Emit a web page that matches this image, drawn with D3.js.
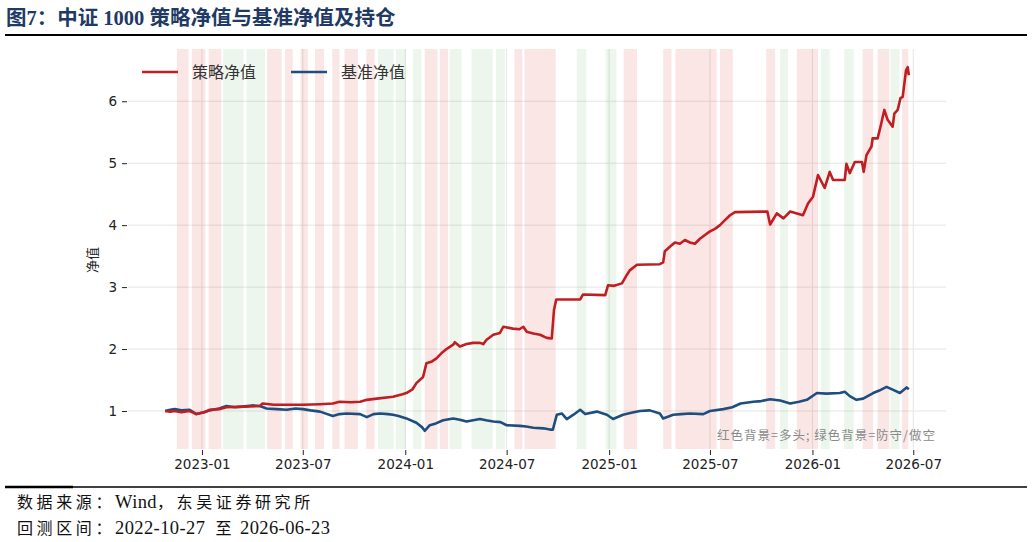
<!DOCTYPE html>
<html><head><meta charset="utf-8">
<script src="https://cdn.jsdelivr.net/npm/d3@7"></script>
<style>
html,body{margin:0;padding:0;background:#fff;}
svg{display:block;}
text{white-space:pre;}
</style></head>
<body>
<svg id="chart" width="1032" height="542"></svg>
<script>
// ---------- data ----------
const titleText = "图7：中证 1000 策略净值与基准净值及持仓";
const seriesNames = ["策略净值", "基准净值"];
const yTicks = [1, 2, 3, 4, 5, 6];
const sourceLines = ["数据来源：Wind，东吴证券研究所", "回测区间：2022-10-27  至 2026-06-23"];
const noteText = "红色背景=多头; 绿色背景=防守/做空";

const strategyDates = ["2022-10-27","2022-11-05","2022-11-13","2022-11-25","2022-12-10","2022-12-22","2023-01-05","2023-01-15","2023-02-01","2023-02-14","2023-03-15","2023-04-15","2023-04-20","2023-05-10","2023-06-02","2023-07-01","2023-08-01","2023-08-24","2023-09-05","2023-09-25","2023-10-12","2023-10-24","2023-11-11","2023-12-10","2023-12-27","2024-01-03","2024-01-14","2024-01-21","2024-02-02","2024-02-08","2024-02-18","2024-02-26","2024-03-08","2024-03-15","2024-03-27","2024-03-30","2024-04-08","2024-04-20","2024-05-02","2024-05-14","2024-05-20","2024-05-26","2024-06-07","2024-06-19","2024-06-25","2024-07-12","2024-07-24","2024-07-31","2024-08-06","2024-08-18","2024-08-30","2024-09-11","2024-09-20","2024-09-24","2024-09-28","2024-11-10","2024-11-15","2024-12-25","2024-12-30","2025-01-10","2025-01-24","2025-02-02","2025-02-07","2025-02-20","2025-04-02","2025-04-08","2025-04-11","2025-04-20","2025-04-29","2025-05-08","2025-05-17","2025-05-26","2025-06-04","2025-06-13","2025-06-22","2025-07-01","2025-07-10","2025-07-19","2025-07-28","2025-08-06","2025-08-15","2025-10-12","2025-10-17","2025-10-29","2025-11-10","2025-11-22","2025-12-15","2025-12-24","2026-01-02","2026-01-11","2026-01-23","2026-02-01","2026-02-07","2026-02-28","2026-03-03","2026-03-09","2026-03-14","2026-03-18","2026-03-31","2026-04-03","2026-04-08","2026-04-17","2026-04-19","2026-04-28","2026-05-04","2026-05-10","2026-05-16","2026-05-25","2026-05-28","2026-06-03","2026-06-08","2026-06-12","2026-06-18","2026-06-21","2026-06-23"];
const strategyValues = [1.00,0.99,1.00,0.98,1.00,0.95,0.98,1.02,1.03,1.06,1.07,1.08,1.12,1.10,1.10,1.10,1.11,1.12,1.15,1.14,1.15,1.18,1.20,1.23,1.27,1.29,1.35,1.45,1.55,1.77,1.80,1.85,1.95,2.00,2.07,2.11,2.04,2.08,2.10,2.10,2.08,2.15,2.23,2.26,2.36,2.33,2.32,2.36,2.28,2.25,2.23,2.18,2.17,2.63,2.80,2.80,2.88,2.87,3.03,3.02,3.06,3.20,3.27,3.36,3.37,3.40,3.58,3.65,3.72,3.70,3.76,3.72,3.70,3.78,3.84,3.90,3.94,4.00,4.08,4.16,4.21,4.22,4.01,4.19,4.11,4.22,4.16,4.35,4.46,4.81,4.60,4.86,4.73,4.73,4.99,4.84,4.94,5.02,5.02,4.86,5.13,5.27,5.40,5.40,5.62,5.86,5.70,5.59,5.80,5.86,6.05,6.07,6.50,6.55,6.42];

const benchDates = ["2022-10-27","2022-11-05","2022-11-13","2022-11-25","2022-12-10","2022-12-22","2023-01-05","2023-01-15","2023-02-01","2023-02-14","2023-03-01","2023-03-15","2023-04-01","2023-04-15","2023-04-27","2023-05-15","2023-06-02","2023-06-18","2023-07-01","2023-07-15","2023-08-01","2023-08-24","2023-09-05","2023-09-18","2023-10-12","2023-10-24","2023-11-05","2023-11-17","2023-12-01","2023-12-10","2023-12-20","2024-01-03","2024-01-21","2024-01-31","2024-02-05","2024-02-14","2024-02-25","2024-03-09","2024-03-27","2024-04-08","2024-04-20","2024-05-14","2024-05-25","2024-06-07","2024-06-20","2024-07-01","2024-07-25","2024-08-05","2024-08-18","2024-09-05","2024-09-17","2024-09-22","2024-09-29","2024-10-08","2024-10-17","2024-10-29","2024-11-10","2024-11-19","2024-12-10","2024-12-28","2025-01-08","2025-01-26","2025-02-10","2025-02-25","2025-03-15","2025-04-02","2025-04-08","2025-04-26","2025-05-10","2025-05-26","2025-06-19","2025-07-01","2025-07-25","2025-08-10","2025-08-25","2025-09-17","2025-10-01","2025-10-17","2025-11-04","2025-11-22","2025-12-08","2025-12-22","2026-01-09","2026-01-26","2026-02-19","2026-02-28","2026-03-09","2026-03-21","2026-04-02","2026-04-20","2026-05-01","2026-05-14","2026-05-26","2026-06-07","2026-06-19","2026-06-23"];
const benchValues = [1.00,1.02,1.03,1.01,1.02,0.95,0.98,1.01,1.04,1.08,1.06,1.07,1.09,1.08,1.04,1.03,1.02,1.04,1.03,1.01,0.99,0.92,0.95,0.96,0.95,0.90,0.95,0.96,0.95,0.94,0.92,0.88,0.81,0.74,0.68,0.77,0.80,0.85,0.88,0.86,0.83,0.87,0.85,0.83,0.82,0.77,0.76,0.75,0.73,0.72,0.70,0.70,0.94,0.96,0.87,0.94,1.02,0.95,0.99,0.94,0.87,0.94,0.97,1.00,1.01,0.96,0.88,0.94,0.95,0.96,0.95,1.00,1.03,1.06,1.12,1.15,1.16,1.19,1.17,1.12,1.15,1.18,1.29,1.28,1.29,1.31,1.24,1.18,1.20,1.29,1.33,1.39,1.34,1.29,1.38,1.35];

// holding periods: 1 = long (red), 0 = defensive/short (green)
const bandStarts = ["2022-11-17","2022-12-14","2023-01-13","2023-02-08","2023-03-22","2023-04-28","2023-05-30","2023-06-27","2023-07-23","2023-08-23","2023-09-14","2023-10-23","2023-11-13","2023-12-15","2024-01-15","2024-02-05","2024-03-03","2024-03-21","2024-04-29","2024-06-12","2024-07-15","2024-08-02","2024-11-04","2024-12-26","2025-01-27","2025-04-08","2025-04-30","2025-07-19","2025-10-10","2025-11-04","2025-12-04","2026-01-16","2026-02-27","2026-04-01","2026-04-28","2026-05-21","2026-06-11"];
const bandEnds   = ["2022-12-08","2023-01-07","2023-02-05","2023-03-17","2023-04-24","2023-05-24","2023-06-13","2023-07-10","2023-08-08","2023-09-05","2023-10-08","2023-11-07","2023-12-11","2024-01-02","2024-01-30","2024-02-28","2024-03-18","2024-04-11","2024-06-06","2024-06-28","2024-07-29","2024-09-27","2024-11-21","2025-01-14","2025-02-20","2025-04-23","2025-07-13","2025-08-11","2025-10-26","2025-11-18","2026-01-11","2026-02-01","2026-03-16","2026-04-20","2026-05-19","2026-06-06","2026-06-22"];
const bandTypes  = [1,1,1,0,0,1,1,1,1,1,1,1,0,0,0,1,1,0,0,0,1,1,0,0,1,1,1,1,1,0,1,0,0,1,1,0,1];

// ---------- drawing ----------
const parse = d3.timeParse("%Y-%m-%d");
const svg = d3.select("#chart");
const plot = {left: 128, right: 946, top: 49, bottom: 449};
const RED = "#bf1e22", BLUE = "#1f4e7e";

const strat = strategyDates.map((d, i) => ({date: parse(d), v: strategyValues[i]}));
const bench = benchDates.map((d, i) => ({date: parse(d), v: benchValues[i]}));
const all = strat.concat(bench);

const xExt = d3.extent(all, d => d.date);
const xSpan = xExt[1] - xExt[0];
const x = d3.scaleTime()
  .domain([new Date(+xExt[0] - xSpan * 0.05), new Date(+xExt[1] + xSpan * 0.05)])
  .range([plot.left, plot.right]);
const yExt = d3.extent(all, d => d.v);
const ySpan = yExt[1] - yExt[0];
const y = d3.scaleLinear()
  .domain([yExt[0] - ySpan * 0.05, yExt[1] + ySpan * 0.05])
  .range([plot.bottom, plot.top]);

// title
svg.append("text").attr("x", 6).attr("y", 25)
  .attr("font-family", "'Liberation Serif','Noto Sans CJK SC',serif")
  .attr("font-weight", "bold").attr("font-size", 20.5).attr("fill", "#1f3a64")
  .text(titleText);
svg.append("line").attr("x1", 5).attr("x2", 1027).attr("y1", 35).attr("y2", 35)
  .attr("stroke", "#000").attr("stroke-width", 2);

// gridlines
const xTickVals = d3.timeMonth.every(6).range(new Date(2023, 0, 1), new Date(2026, 7, 1));
svg.append("g").selectAll("line").data(yTicks).join("line")
  .attr("x1", plot.left).attr("x2", plot.right)
  .attr("y1", d => y(d)).attr("y2", d => y(d))
  .attr("stroke", "#e5e5e5").attr("stroke-width", 1);
svg.append("g").selectAll("line").data(xTickVals).join("line")
  .attr("x1", d => x(d)).attr("x2", d => x(d))
  .attr("y1", plot.top).attr("y2", plot.bottom)
  .attr("stroke", "#e5e5e5").attr("stroke-width", 1);

// bands
svg.append("g").selectAll("rect").data(bandStarts.map((s, i) => ({s: parse(s), e: parse(bandEnds[i]), t: bandTypes[i]})))
  .join("rect")
  .attr("x", d => x(d.s)).attr("width", d => x(d.e) - x(d.s))
  .attr("y", plot.top).attr("height", plot.bottom - plot.top)
  .attr("fill", d => d.t ? "#e03030" : "#2ca02c")
  .attr("fill-opacity", d => d.t ? 0.12 : 0.09);

// axes
const xAxis = d3.axisBottom(x).tickValues(xTickVals).tickFormat(d3.timeFormat("%Y-%m")).tickSize(5).tickPadding(4);
const gx = svg.append("g").attr("transform", `translate(0,${plot.bottom + 1})`).call(xAxis);
gx.select(".domain").remove();
gx.selectAll("line").attr("stroke", "#222");
gx.selectAll("text").attr("font-family", "'DejaVu Sans',sans-serif").attr("font-size", 13.5).attr("fill", "#222");

const yAxis = d3.axisLeft(y).tickValues(yTicks).tickFormat(d3.format("d")).tickSize(5).tickPadding(5);
const gy = svg.append("g").attr("transform", `translate(${plot.left - 1},0)`).call(yAxis);
gy.select(".domain").remove();
gy.selectAll("line").attr("stroke", "#222");
gy.selectAll("text").attr("font-family", "'DejaVu Sans',sans-serif").attr("font-size", 13.5).attr("fill", "#222");

svg.append("text").attr("transform", "translate(97,260) rotate(-90)")
  .attr("text-anchor", "middle").attr("font-family", "'Noto Sans CJK SC',sans-serif")
  .attr("font-size", 13).attr("fill", "#222").text("净值");

// lines
const line = d3.line().x(d => x(d.date)).y(d => y(d.v));
svg.append("path").datum(bench).attr("d", line).attr("fill", "none")
  .attr("stroke", BLUE).attr("stroke-width", 2.6).attr("stroke-linejoin", "round");
svg.append("path").datum(strat).attr("d", line).attr("fill", "none")
  .attr("stroke", RED).attr("stroke-width", 2.6).attr("stroke-linejoin", "round");

// legend
const legend = [{name: seriesNames[0], color: RED, x: 142}, {name: seriesNames[1], color: BLUE, x: 291}];
const lg = svg.append("g").selectAll("g").data(legend).join("g");
lg.append("line").attr("x1", d => d.x).attr("x2", d => d.x + 36).attr("y1", 72).attr("y2", 72)
  .attr("stroke", d => d.color).attr("stroke-width", 2.6);
lg.append("text").attr("x", d => d.x + 50).attr("y", 78)
  .attr("font-family", "'Noto Sans CJK SC',sans-serif").attr("font-size", 16).attr("fill", "#333")
  .text(d => d.name);

// note
svg.append("text").attr("x", 935).attr("y", 440).attr("text-anchor", "end")
  .attr("font-family", "'Noto Sans CJK SC',sans-serif").attr("font-size", 12.5).attr("fill", "#8a8a8a")
  .attr("textLength", 218).attr("lengthAdjust", "spacing")
  .text(noteText);

// footer
svg.append("line").attr("x1", 5).attr("x2", 1027).attr("y1", 487).attr("y2", 487)
  .attr("stroke", "#000").attr("stroke-width", 1.5);
svg.append("line").attr("x1", 5).attr("x2", 73).attr("y1", 487).attr("y2", 487)
  .attr("stroke", "#000").attr("stroke-width", 2.5);
sourceLines.forEach((s, i) => {
  const t = svg.append("text").attr("x", 17).attr("y", 508 + i * 26).attr("fill", "#111");
  const runs = s.match(/[\x20-\x7e]+|[^\x20-\x7e]+/g);
  runs.forEach(r => {
    const latin = /^[\x20-\x7e]+$/.test(r) && /[A-Za-z0-9]/.test(r);
    t.append("tspan").text(r)
      .attr("font-family", latin ? "'Liberation Serif',serif" : "'Noto Sans CJK SC',sans-serif")
      .attr("font-size", latin ? 18.5 : 16)
      .attr("letter-spacing", latin ? 0.4 : 3.6);
  });
});
</script>
</body></html>
